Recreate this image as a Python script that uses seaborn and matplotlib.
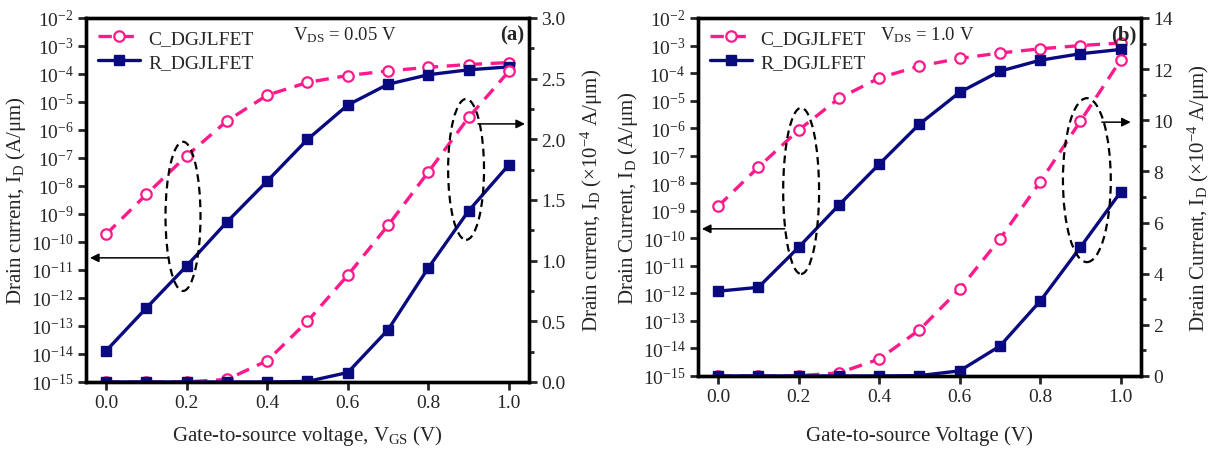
import numpy as np
import pandas as pd
import matplotlib
matplotlib.use("Agg")
import matplotlib.pyplot as plt
import seaborn as sns
from matplotlib.patches import Ellipse
from matplotlib.ticker import (LogLocator, LogFormatterSciNotation, MultipleLocator,
                               NullLocator, FormatStrFormatter)

# Gate voltage sweep (V)
vgs = [0.0, 0.1, 0.2, 0.3, 0.4, 0.5, 0.6, 0.7, 0.8, 0.9, 1.0]

# Drain current (A/um) at VDS = 0.05 V
c_dgjlfet_a = [1.9e-10, 5.0e-9, 1.2e-7, 2.1e-6, 1.75e-5, 5.0e-5, 8.8e-5, 1.29e-4, 1.73e-4, 2.18e-4, 2.56e-4]
r_dgjlfet_a = [1.3e-14, 4.4e-13, 1.4e-11, 5.2e-10, 1.5e-8, 4.6e-7, 7.8e-6, 4.3e-5, 9.4e-5, 1.41e-4, 1.79e-4]

# Drain current (A/um) at VDS = 1.0 V
c_dgjlfet_b = [1.45e-9, 3.8e-8, 8.5e-7, 1.2e-5, 6.6e-5, 1.8e-4, 3.4e-4, 5.36e-4, 7.59e-4, 9.97e-4, 1.236e-3]
r_dgjlfet_b = [1.2e-12, 1.65e-12, 4.7e-11, 1.6e-9, 4.9e-8, 1.4e-6, 2.0e-5, 1.17e-4, 2.93e-4, 5.04e-4, 7.2e-4]

series_names = ["C_DGJLFET", "R_DGJLFET"]
x_ticks = [0.0, 0.2, 0.4, 0.6, 0.8, 1.0]

PINK = "#FF1A8C"
NAVY = "#0A0A80"

sns.set_theme(style="ticks")
plt.rcParams["font.family"] = ["Liberation Serif", "DejaVu Serif"]
plt.rcParams["mathtext.fontset"] = "custom"
plt.rcParams["mathtext.rm"] = "Liberation Serif"
plt.rcParams["mathtext.it"] = "Liberation Serif:italic"
plt.rcParams["mathtext.bf"] = "Liberation Serif:bold"
plt.rcParams["axes.linewidth"] = 2.4
plt.rcParams["xtick.major.width"] = 2.0
plt.rcParams["ytick.major.width"] = 2.0
plt.rcParams["ytick.minor.width"] = 2.0
plt.rcParams["xtick.major.size"] = 6
plt.rcParams["ytick.major.size"] = 6
plt.rcParams["ytick.minor.size"] = 3.5
plt.rcParams["xtick.direction"] = "out"
plt.rcParams["ytick.direction"] = "out"

FS = 14
LFS = 15

fig = plt.figure(figsize=(12.18, 4.52), dpi=100)
fig.patch.set_facecolor("white")


def style_kwargs(name):
    if name == "C_DGJLFET":
        return dict(color=PINK, linestyle=(0, (4.0, 2.6)), linewidth=2.4, marker="o",
                    markersize=7.5, markerfacecolor="white", markeredgecolor=PINK,
                    markeredgewidth=1.6)
    return dict(color=NAVY, linestyle="-", linewidth=2.4, marker="s", markersize=7.5,
                markerfacecolor=NAVY, markeredgecolor=NAVY, markeredgewidth=1.0)


def draw_panel(rect, c_vals, r_vals, left_label, right_label, x_label, vds_text, tag,
               right_max, right_major, right_minor, ellipses, arrows, vds_x, xlabelpad):
    ax = fig.add_axes(rect)
    ax2 = ax.twinx()
    df = pd.DataFrame({"vgs": vgs, "C_DGJLFET": c_vals, "R_DGJLFET": r_vals})

    for name in series_names:
        sns.lineplot(data=df, x="vgs", y=name, ax=ax, legend=False, label=name,
                     **style_kwargs(name))
        # linear-scale copy in units of 1e-4 A/um
        sns.lineplot(x=df["vgs"], y=df[name] * 1e4, ax=ax2, legend=False,
                     **style_kwargs(name))

    ax.set_yscale("log")
    ax.set_ylim(1e-15, 1e-2)
    ax.set_xlim(-0.05, 1.05)
    ax.yaxis.set_major_locator(LogLocator(base=10, numticks=20))
    ax.yaxis.set_major_formatter(LogFormatterSciNotation())
    ax.yaxis.set_minor_locator(NullLocator())
    ax.set_xticks(x_ticks)
    ax.set_xticklabels([f"{v:.1f}" for v in x_ticks])
    ax.tick_params(axis="both", labelsize=FS, pad=3)
    ax.set_xlabel(x_label, fontsize=LFS, labelpad=xlabelpad)
    ax.set_ylabel(left_label, fontsize=LFS, labelpad=2)

    ax2.set_ylim(0, right_max)
    ax2.yaxis.set_major_locator(MultipleLocator(right_major))
    ax2.yaxis.set_minor_locator(MultipleLocator(right_minor))
    if right_major < 1:
        ax2.yaxis.set_major_formatter(FormatStrFormatter("%.1f"))
    else:
        ax2.yaxis.set_major_formatter(FormatStrFormatter("%d"))
    ax2.tick_params(axis="y", which="both", labelsize=FS, pad=3)
    ax2.set_ylabel(right_label, fontsize=LFS, labelpad=9)
    ax2.set_xlim(-0.05, 1.05)

    for sp in list(ax.spines.values()) + list(ax2.spines.values()):
        sp.set_linewidth(2.4)
        sp.set_color("black")
    ax.tick_params(axis="x", which="both", top=False)

    handles = [ln for ln in ax.get_lines() if ln.get_label() in series_names]
    ax.legend(handles=handles, labels=series_names, loc="upper left", frameon=False,
              fontsize=FS, handlelength=2.2, handletextpad=0.4, labelspacing=0.3,
              borderaxespad=0.2, bbox_to_anchor=(0.0, 1.0))

    ax2.text(vds_x, 0.955, vds_text, transform=ax2.transAxes, fontsize=FS - 0.5,
             va="center", ha="left")
    ax2.text(0.99, 0.955, tag, transform=ax2.transAxes, fontsize=FS + 1,
             fontweight="bold", va="center", ha="right")

    for (cx, cy, w, h) in ellipses:
        ax2.add_patch(Ellipse((cx, cy), w, h, transform=ax2.transAxes, fill=False,
                              edgecolor="black", linestyle=(0, (3.5, 2.2)), linewidth=1.6,
                              zorder=5))
    for (x0, x1, y) in arrows:
        ax2.annotate("", xy=(x1, y), xytext=(x0, y), xycoords="axes fraction",
                     textcoords="axes fraction",
                     arrowprops=dict(arrowstyle="-|>", color="black", lw=1.1,
                                     mutation_scale=13, shrinkA=0, shrinkB=0))
    return ax, ax2


draw_panel([0.0706, 0.1527, 0.3637, 0.8053], c_dgjlfet_a, r_dgjlfet_a,
           r"Drain current, I$_\mathrm{D}$ (A/μm)",
           r"Drain current, I$_\mathrm{D}$ (×10$^{-4}$ A/μm)",
           r"Gate-to-source voltage, V$_\mathrm{GS}$ (V)",
           r"V$_\mathrm{DS}$ = 0.05 V", "(a)", 3.0, 0.5, 0.25,
           ellipses=[(0.219, 0.455, 0.079, 0.41), (0.858, 0.584, 0.081, 0.387)],
           arrows=[(0.185, 0.009, 0.341), (0.885, 0.991, 0.709)], vds_x=0.467,
           xlabelpad=8)

draw_panel([0.573, 0.166, 0.3637, 0.792], c_dgjlfet_b, r_dgjlfet_b,
           r"Drain Current, I$_\mathrm{D}$ (A/μm)",
           r"Drain Current, I$_\mathrm{D}$ (×10$^{-4}$ A/μm)",
           "Gate-to-source Voltage (V)",
           r"V$_\mathrm{DS}$ = 1.0 V", "(b)", 14, 2, 1,
           ellipses=[(0.233, 0.517, 0.081, 0.464), (0.878, 0.547, 0.108, 0.458)],
           arrows=[(0.196, 0.009, 0.411), (0.912, 0.977, 0.709)], vds_x=0.411,
           xlabelpad=14)

fig.savefig("out.png", dpi=100, facecolor="white")
